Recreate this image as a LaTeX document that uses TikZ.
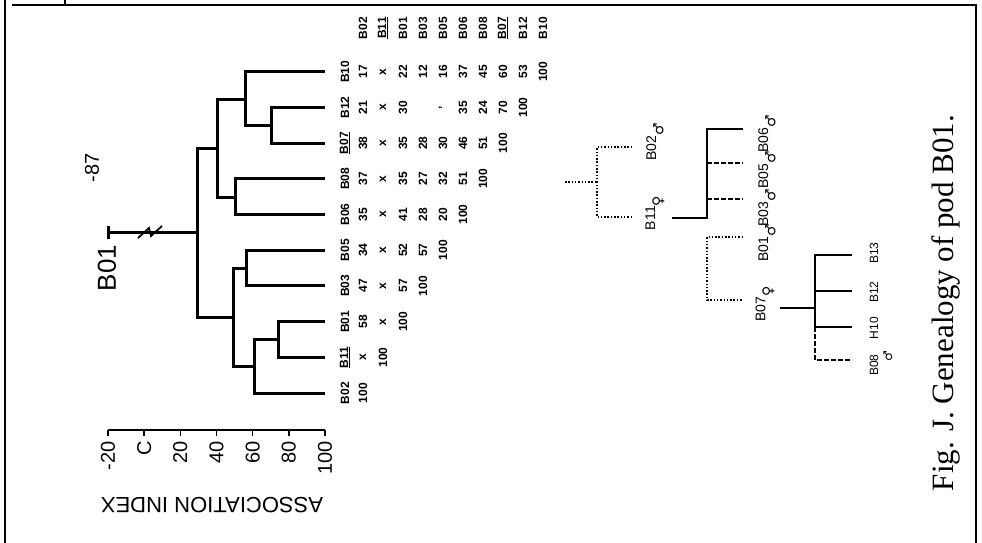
\documentclass[tikz,border=0pt]{standalone}
\usepackage{fontspec}
\setmainfont{Liberation Sans}
\newfontfamily\capfont{Liberation Serif}
\newfontfamily\sexfont{DejaVu Sans}
\usetikzlibrary{positioning}

\newcommand{\male}{\raisebox{-1ex}{\sexfont\char"2642}}
\newcommand{\female}{\raisebox{-1ex}{\sexfont\char"2640}}

\begin{document}
\begin{tikzpicture}[
    x=1pt, y=-1pt,
    frame/.style={line width=2.4pt},
    branch/.style={line width=3pt},
    axisline/.style={line width=1.5pt},
    cell/.style={font=\fontsize{12}{12}\selectfont\bfseries, rotate=90, inner sep=0pt},
    ticklab/.style={font=\fontsize{20}{20}\selectfont, rotate=90, anchor=east, inner sep=0pt},
    kin/.style={font=\fontsize{14}{14}\selectfont, rotate=90, inner sep=0pt},
    solidkin/.style={line width=2.8pt},
    dashkin/.style={line width=2.4pt, dash pattern=on 5pt off 2pt},
    dotkin/.style={line width=1.2pt, dash pattern=on 1.5pt off 1.8pt}
]
\useasboundingbox[fill=white] (0,0) rectangle (982,543);

% frame
\draw[frame] (5,0) -- (5,543);
\draw[frame] (12,5) -- (976,5) -- (976,543);
\draw[frame] (65,0) -- (65,5);

% association index axis
\coordinate (ax0) at (108,430);
\coordinate (ax1) at (325,430);
\draw[axisline] (ax0) -- (ax1);
\foreach \v/\t [count=\i from 0] in {-20/-20,0/C,20/20,40/40,60/60,80/80,100/100} {
    \draw[axisline] ({108+(\v+20)*1.808},430) -- ({108+(\v+20)*1.808},436);
    \node[ticklab] (t\i) at ({108+(\v+20)*1.808},441) {\t};
}
\node[font=\fontsize{22}{22}\selectfont, rotate=180] (axname) at (212,505) {ASSOCIATION INDEX};

% dendrogram
\foreach \r in {0,...,9}
    \coordinate (l\r) at (325,{393-35.67*\r});
\coordinate (jA) at (278,339.5);
\coordinate (jB) at (254,366);
\coordinate (jC) at (246,268);
\coordinate (jD) at (233,317);
\coordinate (jE) at (235,197);
\coordinate (jF) at (271,125.5);
\coordinate (jG) at (245,99);
\coordinate (jH) at (217,148);
\coordinate (jR) at (197,232.5);
\coordinate (stem) at (108,232.5);
\draw[branch] (l1) -| (jA) |- (l2);
\draw[branch] (jA) -| (jB) |- (l0);
\draw[branch] (l3) -| (jC) |- (l4);
\draw[branch] (jB) -| (jD) |- (jC);
\draw[branch] (l5) -| (jE) |- (l6);
\draw[branch] (l7) -| (jF) |- (l8);
\draw[branch] (jF) -| (jG) |- (l9);
\draw[branch] (jE) -| (jH) |- (jG);
\draw[branch] (jD) -| (jR) |- (jH);
\draw[branch] (jR) -- (stem);
\draw[branch] (108,226) -- (108,239);
\draw[line width=1.8pt] (138,238) -- (149,228) -- (151,236) -- (162,226);
\node[font=\fontsize{20}{20}\selectfont, rotate=90] (root) at (92,168) {-87};
\node[font=\fontsize{26}{26}\selectfont, rotate=90] (pod) at (107,268) {B01};

% association matrix
\foreach \h [count=\c from 0] in {B02,\underline{B11},B01,B03,B05,B06,B08,\underline{B07},B12,B10}
    \node[cell] (h\c) at ({363+20*\c},28) {\h};
\foreach \lab/\vals [count=\r from 0] in {
    B02/{100},
    {\underline{B11}}/{x,100},
    B01/{58,x,100},
    B03/{47,x,57,100},
    B05/{34,x,52,57,100},
    B06/{35,x,41,28,20,100},
    B08/{37,x,35,27,32,51,100},
    {\underline{B07}}/{38,x,35,28,30,46,51,100},
    B12/{21,x,30,{},',35,24,70,100},
    B10/{17,x,22,12,16,37,45,60,53,100}} {
    \node[cell] (r\r) at (345,{393-35.67*\r}) {\lab};
    \foreach \v [count=\c from 0] in \vals
        \node[cell] (m\r-\c) at ({363+20*\c},{393-35.67*\r}) {\v};
}

% genealogy of the pod
\coordinate (gpL) at (565,182);
\coordinate (gp) at (597,182);
\coordinate (toB02) at (632,147);
\coordinate (toB11) at (632,217);
\draw[dotkin] (gpL) -- (gp);
\draw[dotkin] (toB11) -| (gp) |- (toB02);
\node[kin] (B02) at (655,142) {B02\male};
\node[kin] (B11) at (655,213) {B11\female};

\coordinate (fromB11) at (672,218);
\coordinate (sib) at (707,218);
\coordinate (toB06) at (743,129);
\coordinate (toB05) at (743,163);
\coordinate (toB03) at (743,199);
\draw[solidkin] (fromB11) -- (sib) |- (toB06);
\draw[dashkin] (707,163) -- (toB05);
\draw[dashkin] (707,199) -- (toB03);
\node[kin] (B06) at (767,134) {B06\male};
\node[kin] (B05) at (767,170) {B05\male};
\node[kin] (B03) at (767,208) {B03\male};

\coordinate (toB01) at (743,237);
\coordinate (toB07) at (743,300);
\draw[dotkin] (toB01) -| (707,268) |- (toB07);
\node[kin] (B01) at (767,243) {B01\male};
\node[kin] (B07) at (765,304) {B07\female};

\coordinate (fromB07) at (780,308);
\coordinate (lit) at (815,308);
\coordinate (toB13) at (852,255);
\coordinate (toB12) at (852,291);
\coordinate (toH10) at (852,327);
\coordinate (toB08) at (852,360);
\draw[solidkin] (fromB07) -- (lit);
\draw[solidkin] (toB13) -| (lit) |- (toH10);
\draw[solidkin] (815,291) -- (toB12);
\draw[dashkin] (815,327) |- (toB08);
\node[kin, font=\fontsize{12}{12}\selectfont] (B13) at (874,253) {B13};
\node[kin, font=\fontsize{12}{12}\selectfont] (B12) at (874,292) {B12};
\node[kin, font=\fontsize{12}{12}\selectfont] (H10) at (874,328) {H10};
\node[kin, font=\fontsize{12}{12}\selectfont] (B08) at (874,365) {B08};
\node[kin, font=\fontsize{12}{12}\selectfont] (B08sex) at (888,356) {\sexfont\char"2642};

% caption
\node[font=\capfont\fontsize{31}{31}\selectfont, rotate=90] (caption) at (946,303) {Fig. J. Genealogy of pod B01.};
\end{tikzpicture}
\end{document}
